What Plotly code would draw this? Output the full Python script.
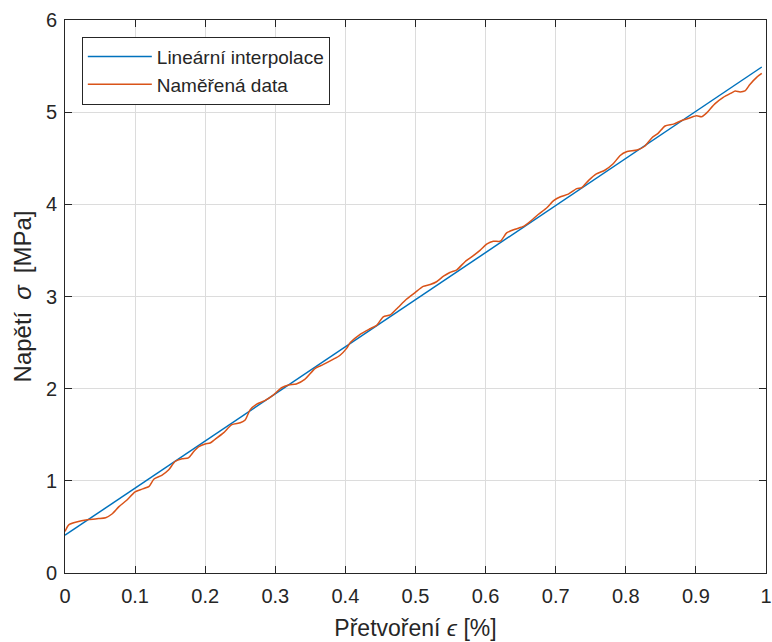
import plotly.graph_objects as go

# Linear interpolation endpoints
lin_x = [0.0, 0.994]
lin_y = [0.41, 5.49]

meas_x = [0.000, 0.005, 0.015, 0.034, 0.048, 0.058, 0.067, 0.077, 0.088, 0.100,
          0.110, 0.120, 0.127, 0.138, 0.148, 0.157, 0.167, 0.176, 0.184, 0.191,
          0.200, 0.207, 0.214, 0.226, 0.238, 0.250, 0.257, 0.264, 0.273, 0.285,
          0.297, 0.309, 0.319, 0.330, 0.342, 0.357, 0.368, 0.383, 0.392, 0.402,
          0.407, 0.421, 0.435, 0.445, 0.454, 0.464, 0.475, 0.487, 0.499, 0.511,
          0.521, 0.530, 0.540, 0.549, 0.559, 0.571, 0.582, 0.592, 0.602, 0.611,
          0.621, 0.630, 0.642, 0.654, 0.663, 0.675, 0.687, 0.697, 0.706, 0.718,
          0.730, 0.737, 0.747, 0.758, 0.770, 0.782, 0.792, 0.801, 0.816, 0.827,
          0.837, 0.846, 0.856, 0.868, 0.880, 0.892, 0.901, 0.908, 0.915, 0.927,
          0.939, 0.951, 0.956, 0.963, 0.970, 0.977, 0.987, 0.994]
meas_y = [0.45, 0.52, 0.55, 0.58, 0.59, 0.60, 0.64, 0.72, 0.79, 0.88,
          0.91, 0.94, 1.02, 1.06, 1.12, 1.21, 1.24, 1.25, 1.32, 1.37,
          1.40, 1.41, 1.45, 1.52, 1.61, 1.63, 1.66, 1.77, 1.83, 1.87,
          1.93, 2.01, 2.04, 2.05, 2.10, 2.22, 2.26, 2.32, 2.36, 2.44,
          2.50, 2.59, 2.65, 2.69, 2.78, 2.80, 2.88, 2.97, 3.04, 3.11,
          3.13, 3.16, 3.22, 3.26, 3.29, 3.38, 3.44, 3.50, 3.57, 3.60,
          3.60, 3.69, 3.73, 3.76, 3.81, 3.89, 3.96, 4.04, 4.08, 4.11,
          4.17, 4.18, 4.26, 4.33, 4.37, 4.44, 4.53, 4.57, 4.59, 4.63,
          4.72, 4.77, 4.85, 4.87, 4.91, 4.94, 4.96, 4.95, 4.99, 5.09,
          5.16, 5.21, 5.23, 5.22, 5.23, 5.30, 5.38, 5.42]

x_ticks = [0, 0.1, 0.2, 0.3, 0.4, 0.5, 0.6, 0.7, 0.8, 0.9, 1]
x_tick_text = ["0", "0.1", "0.2", "0.3", "0.4", "0.5", "0.6", "0.7", "0.8", "0.9", "1"]
y_ticks = [0, 1, 2, 3, 4, 5, 6]

FONT = "Liberation Sans, Arial, sans-serif"
AX = "#262626"

fig = go.Figure()
fig.add_trace(go.Scatter(x=lin_x, y=lin_y, mode="lines", name="Lineární interpolace",
                         line=dict(color="#0072BD", width=1.5)))
fig.add_trace(go.Scatter(x=meas_x, y=meas_y, mode="lines", name="Naměřená data",
                         line=dict(color="#D95319", width=1.5, shape="spline", smoothing=0.6)))

axis_common = dict(
    showline=True, linecolor=AX, linewidth=1, mirror="ticks",
    ticks="inside", ticklen=7, tickcolor=AX, tickwidth=1,
    showgrid=True, gridcolor="#dcdcdc", gridwidth=1,
    zeroline=False, tickfont=dict(family=FONT, size=20, color=AX),
    automargin=False,
)

fig.update_xaxes(range=[0, 1], tickvals=x_ticks, ticktext=x_tick_text,
                 ticklabelstandoff=5,
                 title=dict(text="Přetvoření <i>ϵ</i> [%]", font=dict(family=FONT, size=23, color=AX),
                            standoff=13),
                 **axis_common)
fig.update_yaxes(range=[0, 6], tickvals=y_ticks,
                 ticklabelstandoff=3,
                 title=dict(text="Napětí\u2002<i>σ</i>\u2002[MPa]", font=dict(family=FONT, size=24, color=AX),
                            standoff=7),
                 **axis_common)

fig.update_layout(
    width=772, height=642,
    margin=dict(l=65, r=6, t=20, b=69),
    paper_bgcolor="white", plot_bgcolor="white",
    font=dict(family=FONT, color=AX),
    showlegend=True,
    legend=dict(x=0.024, y=0.97, xanchor="left", yanchor="top",
                bgcolor="white", bordercolor=AX, borderwidth=1,
                font=dict(family=FONT, size=19, color=AX),
                itemwidth=64, tracegroupgap=0),
)

fig.write_html("out.html", config={"displayModeBar": False},
               post_script="document.body.style.margin='0';")
